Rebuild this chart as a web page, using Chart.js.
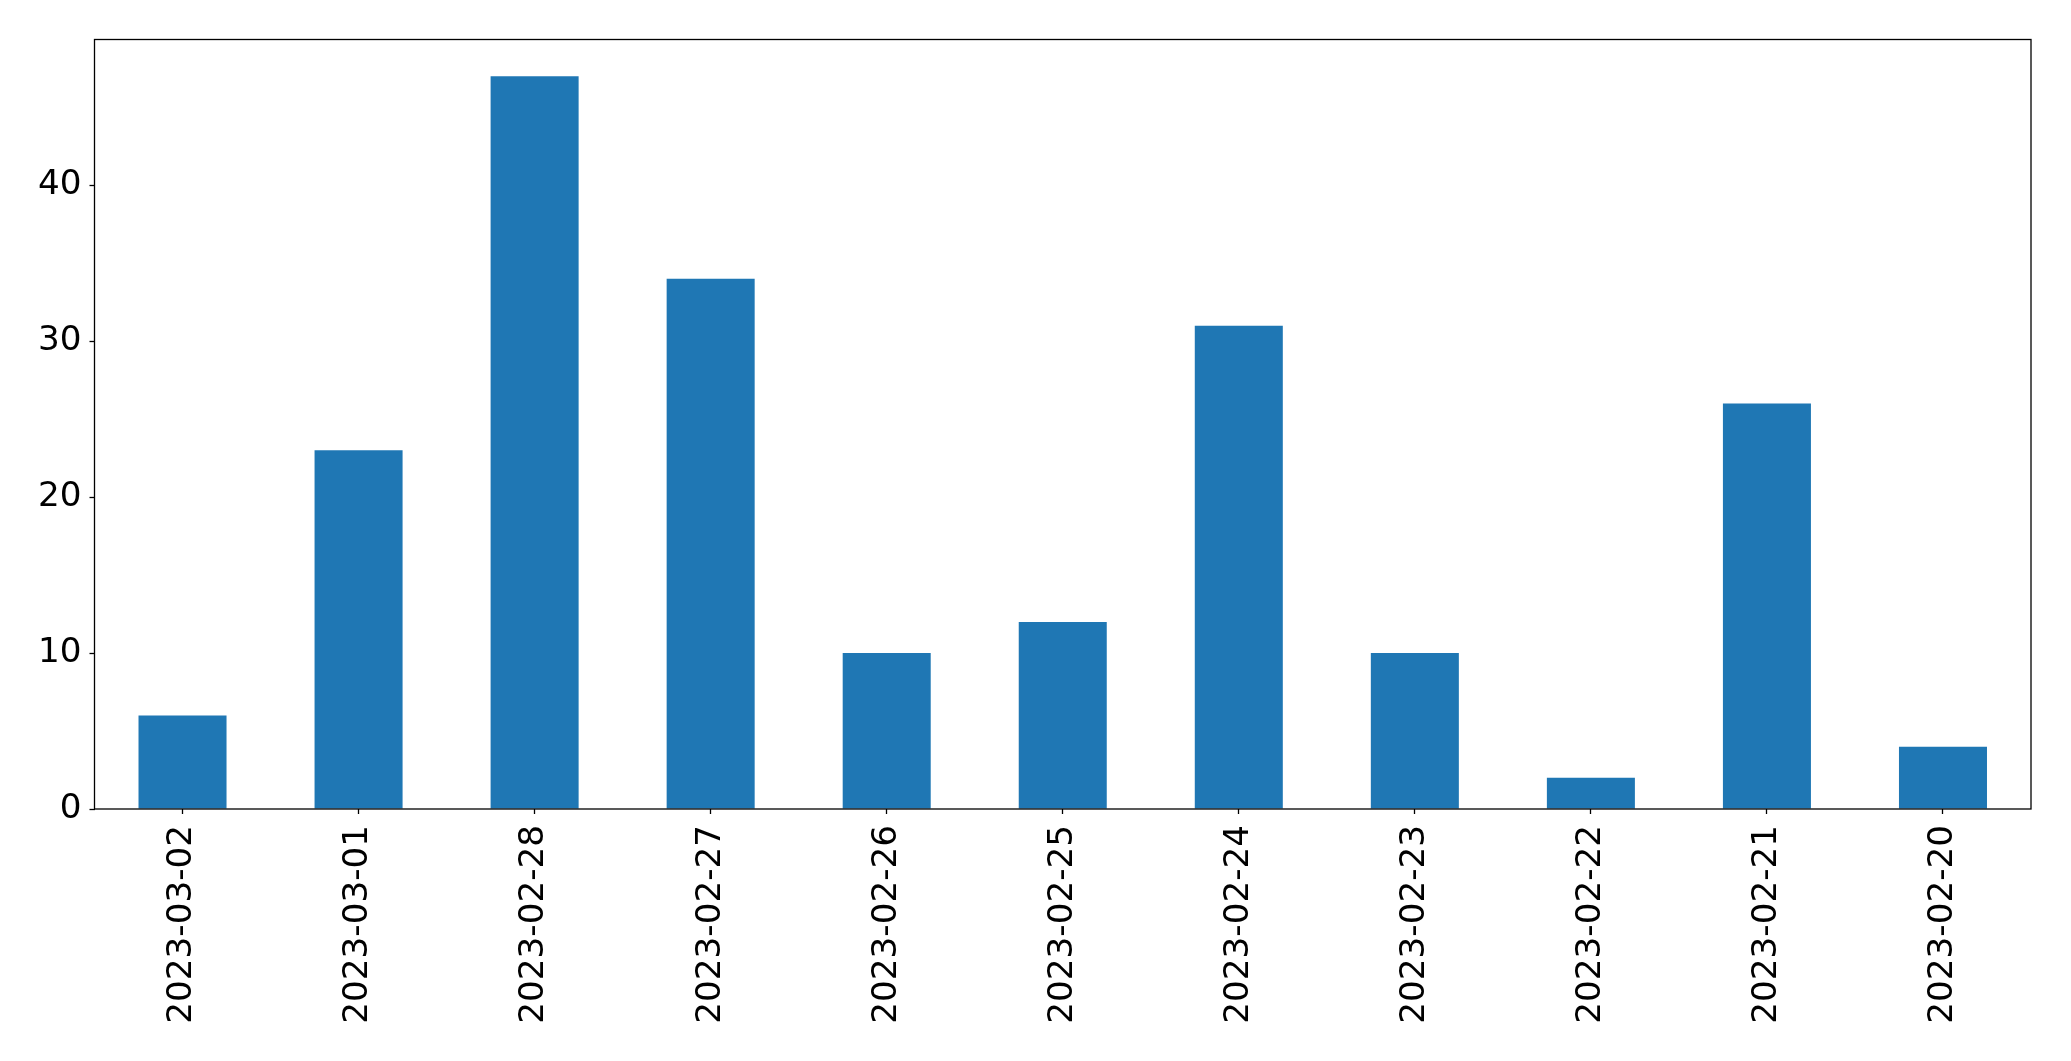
<!DOCTYPE html>
<html lang="en">
<head>
    <meta charset="UTF-8">
    <title>Daily counts</title>
    <script src="https://cdn.jsdelivr.net/npm/chart.js@4.4.1/dist/chart.umd.min.js"></script>
    <style>
        html, body {
            margin: 0;
            padding: 0;
            background: #ffffff;
        }

        #wrap {
            width: 2071px;
            height: 1061px;
        }
    </style>
</head>
<body>
    <div id="wrap">
        <canvas id="chart" width="2071" height="1061"></canvas>
    </div>
    <script>
        // Data
        const dates = ['2023-03-02', '2023-03-01', '2023-02-28', '2023-02-27', '2023-02-26', '2023-02-25',
                       '2023-02-24', '2023-02-23', '2023-02-22', '2023-02-21', '2023-02-20'];
        const counts = [6, 23, 47, 34, 10, 12, 31, 10, 2, 26, 4];
        const yTicks = [0, 10, 20, 30, 40];

        // Draws the box round the plot area
        const frame = {
            id: 'frame',
            afterDraw(chart) {
                const { ctx, chartArea } = chart;
                ctx.save();
                ctx.strokeStyle = '#000000';
                ctx.lineWidth = 1.3;
                ctx.strokeRect(chartArea.left, chartArea.top,
                               chartArea.right - chartArea.left, chartArea.bottom - chartArea.top);
                ctx.restore();
            }
        };

        const tickFont = { family: 'DejaVu Sans', size: 34.2 };

        const ctx = document.getElementById('chart').getContext('2d');
        new Chart(ctx, {
            type: 'bar',
            data: {
                labels: dates,
                datasets: [{
                    data: counts,
                    backgroundColor: '#1f77b4',
                    borderWidth: 0,
                    barPercentage: 0.5,
                    categoryPercentage: 1.0
                }]
            },
            options: {
                responsive: false,
                animation: false,
                layout: {
                    padding: { left: 0, right: 40, top: 39.5, bottom: 0 }
                },
                plugins: {
                    legend: { display: false },
                    tooltip: { enabled: false }
                },
                scales: {
                    x: {
                        grid: {
                            display: true,
                            offset: false,
                            drawOnChartArea: false,
                            tickLength: 5,
                            tickColor: '#000000',
                            tickWidth: 1.3
                        },
                        border: { display: false },
                        ticks: {
                            color: '#000000',
                            font: tickFont,
                            minRotation: 90,
                            maxRotation: 90,
                            padding: 11,
                            autoSkip: false
                        },
                        afterFit(scale) {
                            scale.height = 252;
                        }
                    },
                    y: {
                        min: 0,
                        max: 49.35,
                        grid: {
                            display: true,
                            drawOnChartArea: false,
                            tickLength: 5,
                            tickColor: '#000000',
                            tickWidth: 1.3
                        },
                        border: { display: false },
                        afterBuildTicks(scale) {
                            scale.ticks = yTicks.map(v => ({ value: v }));
                        },
                        ticks: {
                            color: '#000000',
                            font: tickFont,
                            padding: 8
                        },
                        afterFit(scale) {
                            scale.width = 94.5;
                        }
                    }
                }
            },
            plugins: [frame]
        });
    </script>
</body>
</html>
